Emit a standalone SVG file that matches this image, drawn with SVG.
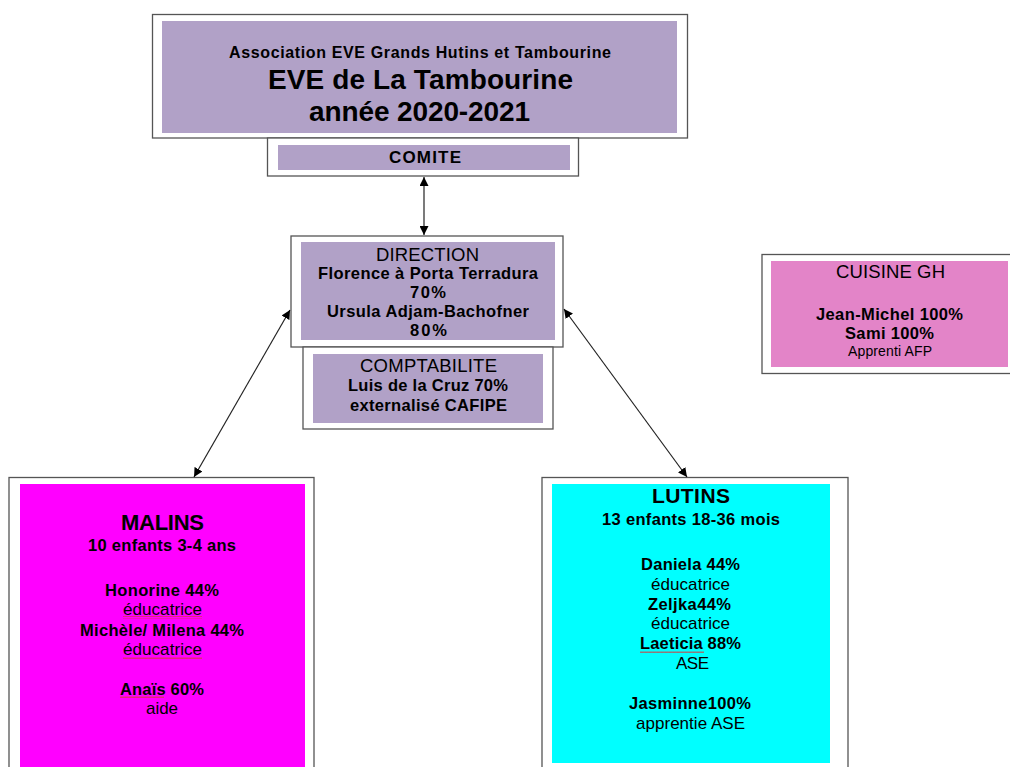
<svg xmlns="http://www.w3.org/2000/svg" width="1010" height="767" viewBox="0 0 1010 767">
<style>
.frame{fill:#fff;stroke:#555;stroke-width:1.3}
.lav{fill:#b1a1c7}
.t{font-family:"Liberation Sans",Arial,sans-serif;text-anchor:middle;fill:#000}
.b{font-weight:bold}
.edge{stroke:#222;stroke-width:1.2;fill:none}
.wavy{stroke:#d23c3c;stroke-width:0.8;fill:none}
</style>
<defs>
<marker id="ah" viewBox="0 0 10 10" refX="10" refY="5" markerWidth="9" markerHeight="9" orient="auto-start-reverse" markerUnits="userSpaceOnUse">
<path d="M0,0 L10,5 L0,10 z" fill="#000"/>
</marker>
<pattern id="wv" width="4" height="3" patternUnits="userSpaceOnUse">
<path d="M0,2 L1,0.5 L2,2 L3,0.5 L4,2" class="wavy"/>
</pattern>
</defs>

<g id="title">
<rect class="frame" x="152.5" y="14.5" width="535" height="123.5"/>
<rect class="lav" x="162" y="21" width="515" height="112"/>
<text class="t b" x="420" y="58" font-size="16" textLength="382" lengthAdjust="spacing">Association EVE Grands Hutins et Tambourine</text>
<text class="t b" x="420.5" y="89" font-size="28" textLength="305" lengthAdjust="spacing">EVE de La Tambourine</text>
<text class="t b" x="419.5" y="121" font-size="28" textLength="221" lengthAdjust="spacing">année 2020-2021</text>
</g>

<g id="comite">
<rect class="frame" x="267.5" y="138" width="311" height="38"/>
<rect class="lav" x="278" y="145" width="292" height="25"/>
<text class="t b" x="425" y="163" font-size="17" textLength="72" lengthAdjust="spacing">COMITE</text>
</g>

<g id="direction">
<rect class="frame" x="291" y="236" width="272" height="111"/>
<rect class="lav" x="301" y="242" width="254" height="98"/>
<text class="t" x="427.5" y="261" font-size="18.5" textLength="103" lengthAdjust="spacing">DIRECTION</text>
<text class="t b" x="428" y="279" font-size="16.5" textLength="220" lengthAdjust="spacing">Florence à Porta Terradura</text>
<text class="t b" x="428" y="298" font-size="16.5" textLength="36" lengthAdjust="spacing">70%</text>
<text class="t b" x="428" y="317" font-size="16.5" textLength="202" lengthAdjust="spacing">Ursula Adjam-Bachofner</text>
<text class="t b" x="428.5" y="336" font-size="16.5" textLength="37" lengthAdjust="spacing">80%</text>
</g>

<g id="comptabilite">
<rect class="frame" x="303" y="347" width="250" height="82"/>
<rect class="lav" x="313" y="354" width="230" height="69"/>
<text class="t" x="428.5" y="372" font-size="18.5" textLength="137" lengthAdjust="spacing">COMPTABILITE</text>
<text class="t b" x="428" y="391" font-size="16.5" textLength="160" lengthAdjust="spacing">Luis de la Cruz 70%</text>
<text class="t b" x="428.5" y="411" font-size="16.5" textLength="157" lengthAdjust="spacing">externalisé CAFIPE</text>
</g>

<g id="cuisine">
<rect class="frame" x="762" y="254.5" width="250" height="119"/>
<rect x="771" y="261" width="237" height="106" fill="#e384c8"/>
<text class="t" x="890.5" y="278" font-size="18.5" textLength="109" lengthAdjust="spacing">CUISINE GH</text>
<text class="t b" x="889.5" y="320" font-size="16.5" textLength="147" lengthAdjust="spacing">Jean-Michel 100%</text>
<text class="t b" x="889.5" y="339" font-size="16.5" textLength="89" lengthAdjust="spacing">Sami 100%</text>
<text class="t" x="890" y="356" font-size="14" textLength="84" lengthAdjust="spacing">Apprenti AFP</text>
</g>

<g id="malins">
<rect class="frame" x="9" y="477.5" width="305" height="295"/>
<rect x="20" y="484" width="285" height="290" fill="#ff00ff"/>
<text class="t b" x="162.5" y="530" font-size="22" textLength="83" lengthAdjust="spacing">MALINS</text>
<text class="t b" x="162" y="551" font-size="16.5" textLength="148" lengthAdjust="spacing">10 enfants 3-4 ans</text>
<text class="t b" x="162" y="596" font-size="16.5" textLength="114" lengthAdjust="spacing">Honorine 44%</text>
<text class="t" x="162.5" y="615" font-size="17" textLength="79" lengthAdjust="spacing">éducatrice</text>
<text class="t b" x="162" y="636" font-size="16.5" textLength="164" lengthAdjust="spacing">Michèle/ Milena 44%</text>
<text class="t" x="162.5" y="655" font-size="17" textLength="79" lengthAdjust="spacing">éducatrice</text>
<text class="t b" x="162" y="695" font-size="16.5" textLength="84" lengthAdjust="spacing">Anaïs 60%</text>
<text class="t" x="162" y="714" font-size="17" textLength="32" lengthAdjust="spacing">aide</text>
<rect x="123" y="616" width="79" height="3" fill="url(#wv)"/>
<rect x="123" y="656" width="79" height="3" fill="url(#wv)"/>
<rect x="120" y="696" width="44" height="3" fill="url(#wv)"/>
</g>

<g id="lutins">
<rect class="frame" x="542" y="477.5" width="306" height="295"/>
<rect x="552" y="484" width="278" height="279" fill="#00ffff"/>
<text class="t b" x="691" y="503" font-size="21" textLength="78" lengthAdjust="spacing">LUTINS</text>
<text class="t b" x="691" y="525" font-size="16.5" textLength="178" lengthAdjust="spacing">13 enfants 18-36 mois</text>
<text class="t b" x="690.5" y="570" font-size="16.5" textLength="99" lengthAdjust="spacing">Daniela 44%</text>
<text class="t" x="690.5" y="590" font-size="17" textLength="79" lengthAdjust="spacing">éducatrice</text>
<text class="t b" x="689.5" y="610" font-size="16.5" textLength="83" lengthAdjust="spacing">Zeljka44%</text>
<text class="t" x="690.5" y="629" font-size="17" textLength="79" lengthAdjust="spacing">éducatrice</text>
<text class="t b" x="690.5" y="649" font-size="16.5" textLength="101" lengthAdjust="spacing">Laeticia 88%</text>
<text class="t" x="692.5" y="669" font-size="17" textLength="33" lengthAdjust="spacing">ASE</text>
<text class="t b" x="690" y="709" font-size="16.5" textLength="122" lengthAdjust="spacing">Jasminne100%</text>
<text class="t" x="690.5" y="729" font-size="17" textLength="109" lengthAdjust="spacing">apprentie ASE</text>
<rect x="640" y="650" width="64" height="3" fill="url(#wv)"/>
</g>

<g id="connectors">
<line class="edge" x1="424" y1="177" x2="424" y2="235" marker-start="url(#ah)" marker-end="url(#ah)"/>
<line class="edge" x1="290" y1="310" x2="194" y2="477" marker-start="url(#ah)" marker-end="url(#ah)"/>
<line class="edge" x1="564" y1="309" x2="687" y2="477" marker-start="url(#ah)" marker-end="url(#ah)"/>
</g>
</svg>
